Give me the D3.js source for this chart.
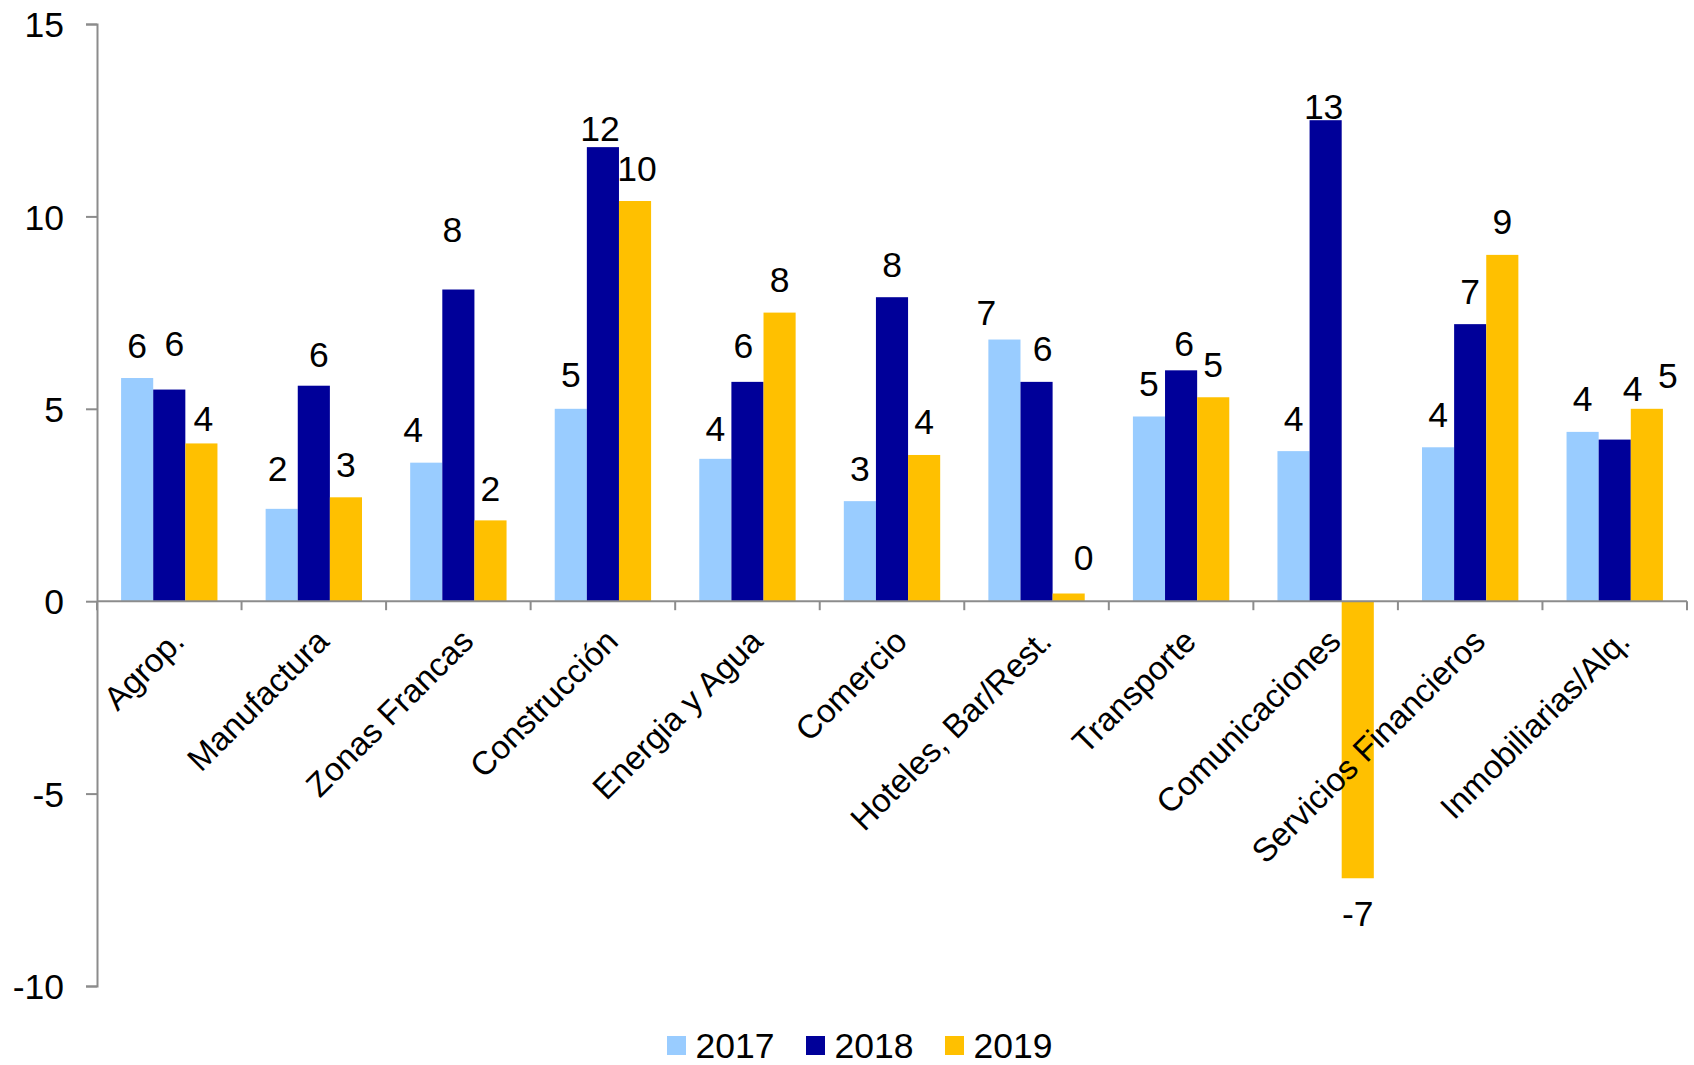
<!DOCTYPE html>
<html>
<head>
<meta charset="utf-8">
<script src="https://cdn.jsdelivr.net/npm/d3@7"></script>
<style>
  html, body { margin: 0; padding: 0; background: #ffffff; }
  svg { display: block; font-family: "Liberation Sans", Arial, sans-serif; }
</style>
</head>
<body>
<svg id="chart" width="1694" height="1065"></svg>
<script>
// Growth by economic sector, 2017-2019 (%)
const categories = [
  "Agrop.", "Manufactura", "Zonas Francas", "Construcción", "Energia y Agua",
  "Comercio", "Hoteles, Bar/Rest.", "Transporte", "Comunicaciones",
  "Servicios Financieros", "Inmobiliarias/Alq."
];
const seriesNames = ["2017", "2018", "2019"];
const values2017 = [5.8, 2.4, 3.6, 5.0, 3.7, 2.6, 6.8, 4.8, 3.9, 4.0, 4.4];
const values2018 = [5.5, 5.6, 8.1, 11.8, 5.7, 7.9, 5.7, 6.0, 12.5, 7.2, 4.2];
const values2019 = [4.1, 2.7, 2.1, 10.4, 7.5, 3.8, 0.2, 5.3, -7.2, 9.0, 5.0];
const yTicks = [15, 10, 5, 0, -5, -10];

// Hand-placed offsets [dx, dy] for data labels that were moved to avoid overlaps
const labelNudge2017 = [[0,0],[-4,-7],[-13,0],[0,-1],[0,3],[0,0],[-18,6],[0,0],[0,0],[0,0],[0,0]];
const labelNudge2018 = [[5,-13],[5,2],[-6,-27],[-3,14],[-4,-3],[0,0],[6,0],[3,6],[-2,19],[0,0],[18,-18]];
const labelNudge2019 = [[2,8],[0,0],[0,1],[2,0],[0,0],[0,0],[15,-3],[0,0],[0,0],[0,0],[21,0]];

const colors = ["#99CCFF", "#000099", "#FFC000"];
const seriesValues = [values2017, values2018, values2019];
const seriesNudges = [labelNudge2017, labelNudge2018, labelNudge2019];

const svg = d3.select("#chart");
const plot = { left: 97, right: 1687, top: 24, bottom: 986 };
const axisColor = "#8c8c8c";
const numFont = 35.5;
const catFont = 33;

const x = d3.scaleBand()
  .domain(categories)
  .range([plot.left, plot.right])
  .paddingInner(1 / 3)
  .paddingOuter(1 / 6);

const xInner = d3.scaleBand()
  .domain(seriesNames)
  .range([0, x.bandwidth()])
  .padding(0);

const y = d3.scaleLinear()
  .domain([-10, 15])
  .range([plot.bottom, plot.top]);

// Bars
const rows = [];
seriesNames.forEach((s, si) => {
  categories.forEach((c, ci) => {
    rows.push({ cat: c, series: s, si, value: seriesValues[si][ci], nudge: seriesNudges[si][ci] });
  });
});

svg.append("g")
  .selectAll("rect")
  .data(rows)
  .join("rect")
  .attr("x", d => x(d.cat) + xInner(d.series))
  .attr("y", d => y(Math.max(0, d.value)))
  .attr("width", xInner.bandwidth())
  .attr("height", d => Math.abs(y(d.value) - y(0)))
  .attr("fill", d => colors[d.si]);

// Y axis
const yAxis = d3.axisLeft(y)
  .tickValues(yTicks)
  .tickSize(11)
  .tickPadding(22)
  .tickFormat(d => String(d));

const yG = svg.append("g")
  .attr("transform", `translate(${plot.left},0)`)
  .call(yAxis);
yG.select(".domain").attr("stroke", axisColor).attr("stroke-width", 2);
yG.selectAll(".tick line").attr("stroke", axisColor).attr("stroke-width", 2);
yG.selectAll(".tick text")
  .attr("fill", "#000")
  .attr("font-size", numFont)
  .attr("font-family", "'Liberation Sans', Arial, sans-serif")
  .attr("dy", "0.36em");

// X axis along zero line, ticks at category boundaries
const y0 = y(0);
svg.append("line")
  .attr("x1", plot.left).attr("x2", plot.right)
  .attr("y1", y0).attr("y2", y0)
  .attr("stroke", axisColor).attr("stroke-width", 2);

const boundaries = categories.map(c => x(c) - x.step() * x.paddingInner() / 2)
  .concat([plot.right]);
svg.append("g")
  .selectAll("line")
  .data(boundaries)
  .join("line")
  .attr("x1", d => d).attr("x2", d => d)
  .attr("y1", y0).attr("y2", y0 + 9)
  .attr("stroke", axisColor).attr("stroke-width", 2);

// Rotated category labels
svg.append("g")
  .selectAll("text")
  .data(categories)
  .join("text")
  .attr("transform", c => `translate(${x(c) + x.bandwidth() / 2 + 17},${y0 + 42}) rotate(-45)`)
  .attr("text-anchor", "end")
  .attr("font-size", catFont)
  .attr("fill", "#000")
  .text(c => c);

// Data labels
svg.append("g")
  .selectAll("text")
  .data(rows)
  .join("text")
  .attr("x", d => x(d.cat) + xInner(d.series) + xInner.bandwidth() / 2 + d.nudge[0])
  .attr("y", d => (d.value >= 0 ? y(d.value) - 20.5 : y(d.value) + 48) + d.nudge[1])
  .attr("text-anchor", "middle")
  .attr("font-size", numFont)
  .attr("fill", "#000")
  .text(d => String(Math.round(d.value)));

// Legend
const legend = svg.append("g").attr("transform", "translate(667,1036)");
const items = legend.selectAll("g")
  .data(seriesNames)
  .join("g")
  .attr("transform", (d, i) => `translate(${i * 139},0)`);
items.append("rect")
  .attr("width", 19).attr("height", 19)
  .attr("fill", (d, i) => colors[i]);
items.append("text")
  .attr("x", 28.5).attr("y", 21.5)
  .attr("font-size", numFont)
  .attr("fill", "#000")
  .text(d => d);
</script>
</body>
</html>
